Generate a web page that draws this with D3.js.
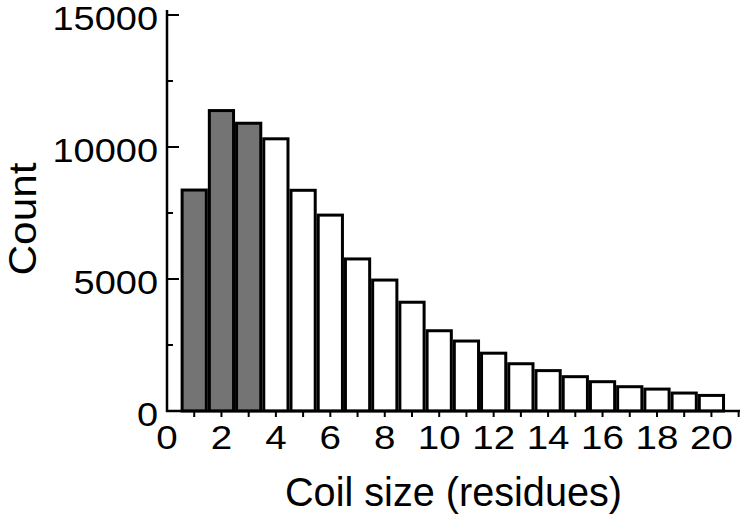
<!DOCTYPE html>
<html><head><meta charset="utf-8">
<script src="https://cdn.jsdelivr.net/npm/d3@7"></script>
<style>body{margin:0;background:#fff}text{font-family:"Liberation Sans",Arial,Helvetica,sans-serif;fill:#000}</style>
</head><body><svg id="c" width="742" height="519"></svg>
<script>
const sizes = [1,2,3,4,5,6,7,8,9,10,11,12,13,14,15,16,17,18,19,20];
const counts = [8370,11380,10900,10310,8360,7420,5760,4960,4120,3040,2650,2190,1790,1530,1300,1110,920,830,680,590];
const highlighted = [1,2,3];
const yTicks = [0,5000,10000,15000];
const yMinor = [2500,7500,12500];
const xTicks = [0,2,4,6,8,10,12,14,16,18,20];

const svg = d3.select("#c");
const x = d3.scaleLinear().domain([0,21.05]).range([167,740]);
const y = d3.scaleLinear().domain([0,15000]).range([411,15]);
const sx = 1.15;

svg.selectAll("rect.bar").data(sizes).join("rect")
  .attr("class","bar")
  .attr("x", d=>x(d-0.5)+1.5)
  .attr("width", d=>x(d+0.5)-x(d-0.5)-3)
  .attr("y", (d,i)=>y(counts[i]))
  .attr("height", (d,i)=>y(0)-y(counts[i]))
  .attr("fill", d=>highlighted.includes(d)?"#747474":"#fff")
  .attr("stroke","#000").attr("stroke-width",3);

// axes
const g = svg.append("g");
g.append("line").attr("x1",x(0)).attr("x2",x(0)).attr("y1",y(15000)-5).attr("y2",y(0)+1).attr("stroke","#000").attr("stroke-width",2.5);
g.append("line").attr("x1",x(0)-1).attr("x2",740).attr("y1",y(0)).attr("y2",y(0)).attr("stroke","#000").attr("stroke-width",2.5);
g.selectAll("line.ymaj").data(yTicks.slice(1)).join("line").attr("class","ymaj")
  .attr("x1",x(0)).attr("x2",x(0)+12).attr("y1",d=>y(d)).attr("y2",d=>y(d)).attr("stroke","#000").attr("stroke-width",2);
g.selectAll("line.ymin").data(yMinor).join("line").attr("class","ymin")
  .attr("x1",x(0)).attr("x2",x(0)+6).attr("y1",d=>y(d)).attr("y2",d=>y(d)).attr("stroke","#000").attr("stroke-width",2);
g.selectAll("line.xt").data(d3.range(1,22)).join("line").attr("class","xt")
  .attr("x1",d=>x(d)).attr("x2",d=>x(d)).attr("y1",y(0)).attr("y2",y(0)+6).attr("stroke","#000").attr("stroke-width",2);

const yx = 158;
g.selectAll("text.yl").data(yTicks).join("text").attr("class","yl")
  .attr("text-anchor","end").attr("font-size",33)
  .attr("transform",d=>`translate(${yx},${y(d)+15}) scale(${sx},1)`).text(d=>d);
g.selectAll("text.xl").data(xTicks).join("text").attr("class","xl")
  .attr("text-anchor","middle").attr("font-size",33.5)
  .attr("transform",d=>`translate(${x(d)},449) scale(${sx},1)`).text(d=>d);
svg.append("text").attr("x",453.5).attr("y",506).attr("text-anchor","middle").attr("font-size",40.5)
  .attr("textLength",337).attr("lengthAdjust","spacingAndGlyphs").text("Coil size (residues)");
svg.append("text").attr("transform","translate(36,219) rotate(-90)").attr("text-anchor","middle").attr("font-size",39)
  .attr("textLength",113).attr("lengthAdjust","spacingAndGlyphs").text("Count");
</script></body></html>
